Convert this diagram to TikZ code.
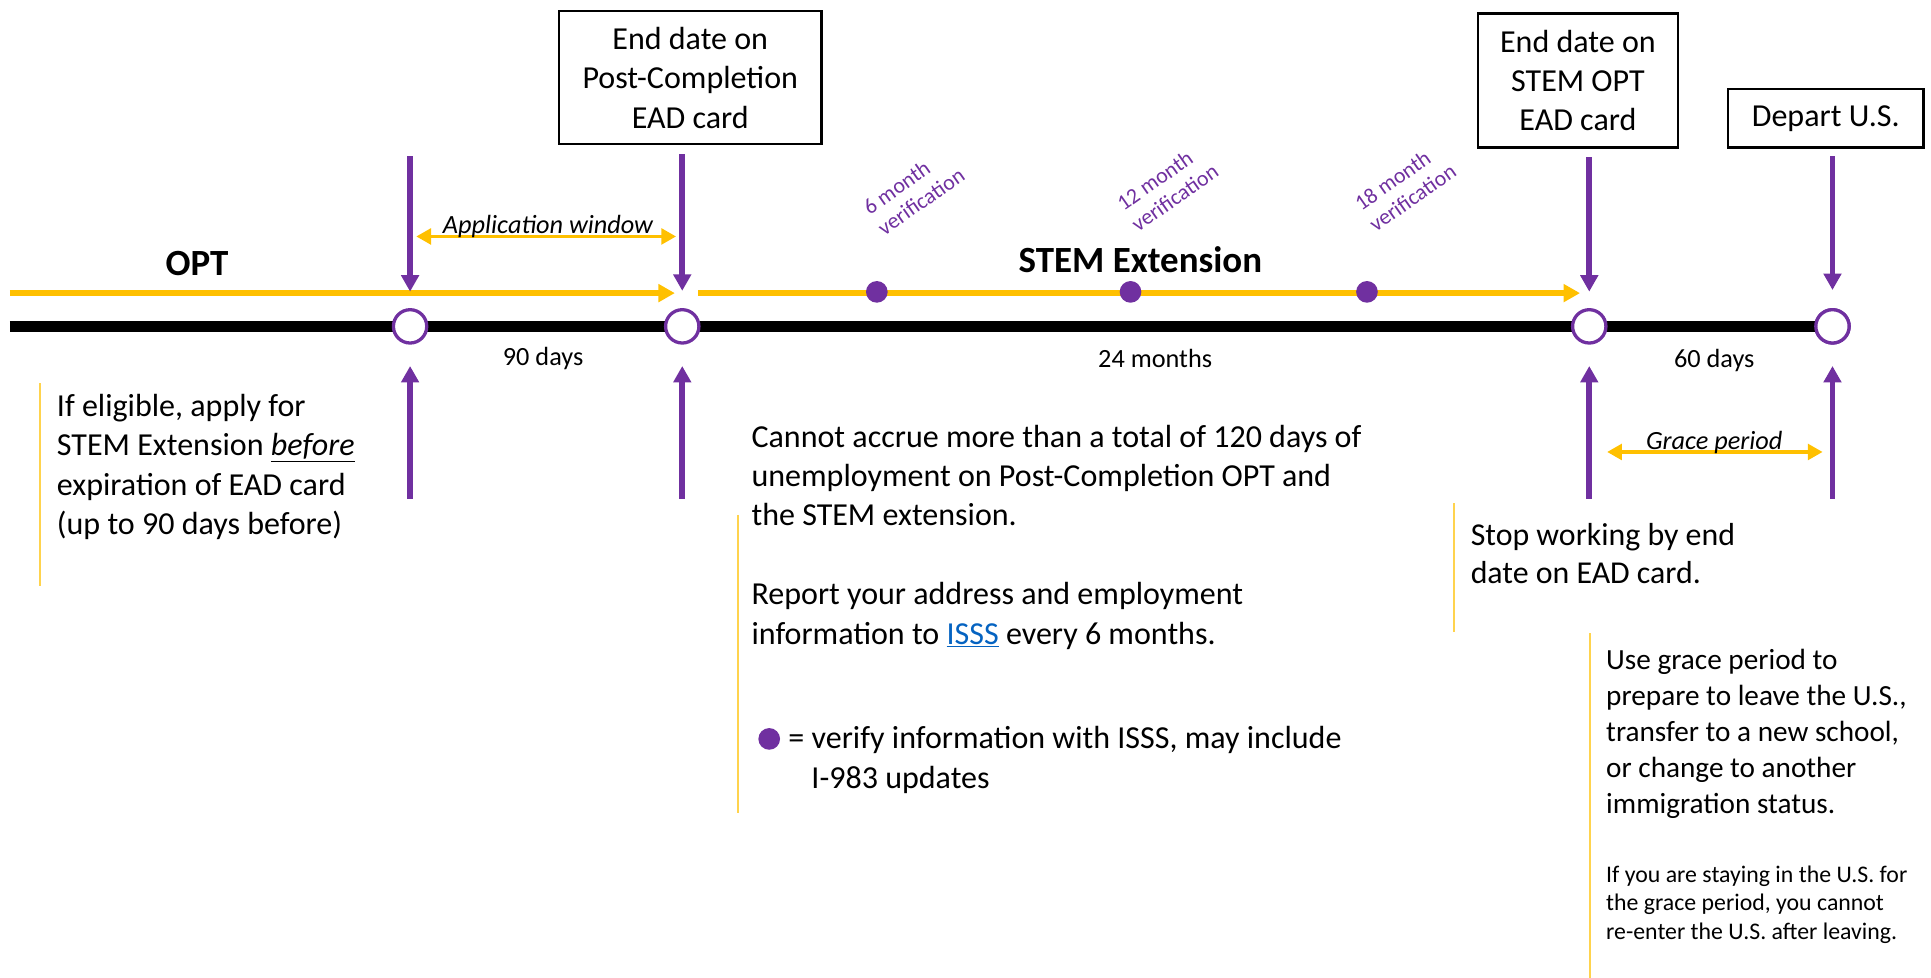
\documentclass[tikz,border=0pt]{standalone}
\usepackage{fontspec}
\setmainfont{Carlito}
\usetikzlibrary{arrows.meta}
\definecolor{pur}{HTML}{7030A0}
\definecolor{yel}{HTML}{FFC000}
\definecolor{lnk}{HTML}{0563C1}
\definecolor{yline}{HTML}{FFD34D}
\newcommand\mainsz{\fontsize{19.5}{24}\selectfont}
\newcommand\stopsz{\fontsize{19.4}{23.5}\selectfont}
\newcommand\midsz{\fontsize{17.8}{21.9}\selectfont}
\newcommand\smlsz{\fontsize{14.5}{17.5}\selectfont}
\newcommand\daysz{\fontsize{16}{19}\selectfont}
\newcommand\headsz{\fontsize{22.5}{27}\selectfont\bfseries}
\newcommand\versz{\fontsize{13.4}{15.5}\selectfont}
\begin{document}
\begin{tikzpicture}[x=0.75pt,y=-0.75pt,
  timeline/.style={line width=7.1pt,black},
  yelarrow/.style={line width=3.5pt,yel,-{Triangle[width=10.5pt,length=10pt]}},
  yeltwo/.style={line width=2.2pt,yel,{Triangle[width=9.5pt,length=9pt]}-{Triangle[width=9.5pt,length=9pt]}},
  purarrow/.style={line width=3.6pt,pur,-{Triangle[width=10.5pt,length=10pt]}},
  milestone/.style={circle,draw=pur,line width=2pt,fill=white,minimum size=20.3pt,inner sep=0pt},
  vdot/.style={circle,fill=pur,minimum size=13.2pt,inner sep=0pt},
  datebox/.style={draw,line width=1.5pt,align=center,font=\mainsz,inner sep=0pt},
  note/.style={align=left,anchor=base west,inner sep=0pt},
  noteline/.style={yline,line width=1.3pt},
  verlabel/.style={pur,font=\versz,rotate=35,align=left,inner sep=0pt},
  span/.style={font=\daysz,inner sep=0pt,anchor=base}
]
\useasboundingbox (0,0) rectangle (1568,794);

% boxes
\node[datebox,minimum width=159.75pt,minimum height=81pt] (b1) at (560.5,63) {End date on\\Post-Completion\\EAD card};
\node[datebox,minimum width=122pt,minimum height=81.5pt] (b2) at (1281.3,65.3) {End date on\\STEM OPT\\EAD card};
\node[datebox,minimum width=119.25pt,minimum height=35.5pt] (b3) at (1482.5,96) {Depart U.S.};

% timeline
\coordinate (tl0) at (8,265);
\node[milestone] (c4) at (1488,265) {};
\draw[timeline] (tl0) -- (c4.center);
\node[milestone] (c1) at (333,265) {};
\node[milestone] (c2) at (554,265) {};
\node[milestone] (c3) at (1290.5,265) {};
\node[milestone] at (1488,265) {};

% yellow arrows
\coordinate (y0) at (8,238);
\coordinate (y1) at (548,238);
\coordinate (y2) at (567,238);
\coordinate (y3) at (1283,238);
\draw[yelarrow] (y0) -- (y1);
\draw[yelarrow] (y2) -- (y3);
\node[vdot] (d1) at (712,237) {};
\node[vdot] (d2) at (918,237) {};
\node[vdot] (d3) at (1110,237) {};

% headings
\node[font=\headsz,anchor=base,inner sep=0pt] (opt) at (160,224) {OPT};
\node[font=\headsz,anchor=base,inner sep=0pt] (stem) at (926,221) {STEM Extension};

% verification labels
\node[verlabel] (v6) at (742,155) {6 month\\verification};
\node[verlabel] (v12) at (948,152) {12 month\\verification};
\node[verlabel] (v18) at (1141,152) {18 month\\verification};

% down arrows
\coordinate (t1) at (333,127);
\draw[purarrow,shorten >=10pt] (t1) -- (c1.north);
\draw[purarrow,shorten <=5.4pt,shorten >=10.5pt] (b1.south -| c2) -- (c2.north);
\draw[purarrow,shorten <=5.4pt,shorten >=10pt] (b2.south -| c3) -- (c3.north);
\draw[purarrow,shorten <=4.8pt,shorten >=11pt] (b3.south -| c4) -- (c4.north);

% up arrows
\coordinate (u1) at (333,405);
\coordinate (u2) at (554,405);
\coordinate (u3) at (1290.5,405);
\coordinate (u4) at (1488,405);
\draw[purarrow,shorten >=13pt] (u1) -- (c1.south);
\draw[purarrow,shorten >=13pt] (u2) -- (c2.south);
\draw[purarrow,shorten >=13pt] (u3) -- (c3.south);
\draw[purarrow,shorten >=13pt] (u4) -- (c4.south);

% spans
\node[span] (s1) at (441,297) {90 days};
\node[span] (s2) at (938,298) {24 months};
\node[span] (s3) at (1392,298) {60 days};

% application window / grace period
\coordinate (aw0) at (338,192);
\coordinate (aw1) at (549,192);
\draw[yeltwo] (aw0) -- (aw1);
\node[font=\daysz\itshape,anchor=base,inner sep=0pt] (awt) at (445,190) {Application window};
\coordinate (gp0) at (1305,367);
\coordinate (gp1) at (1480,367);
\draw[yeltwo] (gp0) -- (gp1);
\node[font=\daysz\itshape,anchor=base,inner sep=0pt] (gpt) at (1392,365) {Grace period};

% notes (base anchor = last line's baseline)
\coordinate (n1a) at (32.5,311); \coordinate (n1b) at (32.5,476);
\draw[noteline] (n1a) -- (n1b);
\node[note,font=\mainsz] (left) at (46,434) {If eligible, apply for\\STEM Extension \underline{\textit{before}}\\expiration of EAD card\\(up to 90 days before)};

\coordinate (n2a) at (599,418); \coordinate (n2b) at (599,660);
\draw[noteline] (n2a) -- (n2b);
\node[note,font=\mainsz] (mid) at (610,523) {Cannot accrue more than a total of 120 days of\\unemployment on Post-Completion OPT and\\the STEM extension.\\[24pt]Report your address and employment\\information to \textcolor{lnk}{\underline{ISSS}} every 6 months.};
\node[vdot] (ld) at (624.6,600) {};
\node[note,font=\mainsz] (legend) at (640,640) {= verify information with ISSS, may include\\\hspace*{14pt}I-983 updates};

\coordinate (n3a) at (1180.7,408.6); \coordinate (n3b) at (1180.7,513);
\draw[noteline] (n3a) -- (n3b);
\node[note,font=\stopsz] (stop) at (1194,474) {Stop working by end\\date on EAD card.};

\coordinate (n4a) at (1291,514); \coordinate (n4b) at (1291,794);
\draw[noteline] (n4a) -- (n4b);
\node[note,font=\midsz] (grace) at (1304,660.5) {Use grace period to\\prepare to leave the U.S.,\\transfer to a new school,\\or change to another\\immigration status.};
\node[note,font=\smlsz] (reenter) at (1304,763) {If you are staying in the U.S. for\\the grace period, you cannot\\re-enter the U.S. after leaving.};
\end{tikzpicture}
\end{document}
